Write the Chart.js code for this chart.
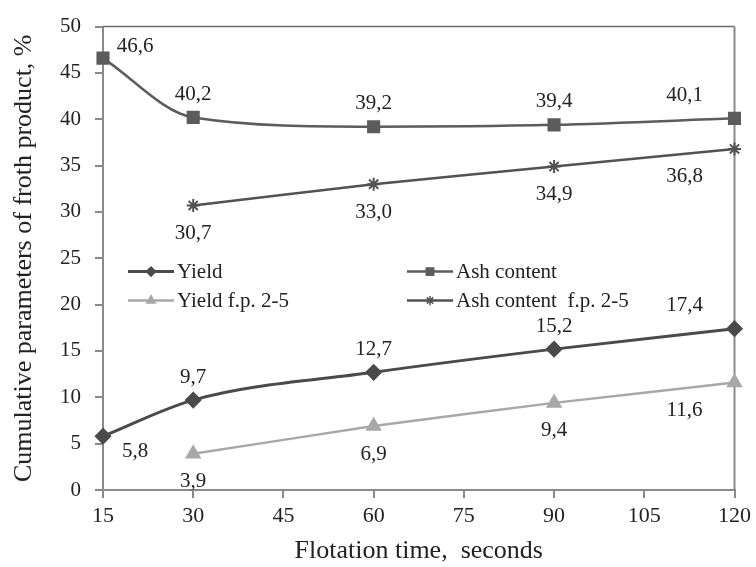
<!DOCTYPE html>
<html>
<head>
<meta charset="utf-8">
<script src="https://cdn.jsdelivr.net/npm/chart.js@4/dist/chart.umd.min.js"></script>
<style>
  html, body { margin: 0; padding: 0; background: #fff; }
  #wrap { width: 756px; height: 567px; }
</style>
</head>
<body>
<div id="wrap"><canvas id="grafico" width="756" height="567"></canvas></div>
<script>
// --- dados ---
const tempos = [15, 30, 60, 90, 120];
const yieldVals = [5.8, 9.7, 12.7, 15.2, 17.4];
const ashVals = [46.6, 40.2, 39.2, 39.4, 40.1];
const yieldFpVals = [null, 3.9, 6.9, 9.4, 11.6];
const ashFpVals = [null, 30.7, 33.0, 34.9, 36.8];
const xTicks = [15, 30, 45, 60, 75, 90, 105, 120];

const FONTE = "'Liberation Serif', 'Times New Roman', serif";
const COR_EIXO = '#8a8a8a';

function pontos(vals) {
  return tempos.map((t, i) => ({ x: t, y: vals[i] }));
}

function fmt(v) {
  return v.toFixed(1).replace('.', ',');
}

// rótulos de valor ao lado dos pontos
const rotulosPlugin = {
  id: 'rotulos',
  afterDatasetsDraw(chart) {
    const ctx = chart.ctx;
    ctx.save();
    ctx.font = '21px ' + FONTE;
    ctx.fillStyle = '#222';
    ctx.textAlign = 'center';
    ctx.textBaseline = 'middle';
    chart.data.datasets.forEach((ds, di) => {
      const meta = chart.getDatasetMeta(di);
      meta.data.forEach((pt, i) => {
        const v = ds.data[i].y;
        if (v === null || v === undefined) return;
        let dx = 0;
        let dy = ds.lado === 'acima' ? -23 : 28;
        if (i === 0) { dx = 32; dy = ds.dyInicio; }
        if (i === ds.data.length - 1) dx = -50;
        ctx.fillText(fmt(v), pt.x + dx, pt.y + dy);
      });
    });
    ctx.restore();
  }
};

// legenda desenhada dentro da área do gráfico
const legendaPlugin = {
  id: 'legendaInterna',
  afterDatasetsDraw(chart) {
    const ctx = chart.ctx;
    const area = chart.chartArea;
    const cols = [area.left + 25, area.left + 304];
    const linhas = [area.top + 245, area.top + 274];
    ctx.save();
    ctx.font = '21px ' + FONTE;
    ctx.textBaseline = 'middle';
    ctx.textAlign = 'left';
    chart.data.datasets.forEach((ds, k) => {
      const x = cols[k % 2];
      const y = linhas[Math.floor(k / 2)];
      ctx.strokeStyle = ds.borderColor;
      ctx.lineWidth = ds.borderWidth;
      ctx.beginPath();
      ctx.moveTo(x, y);
      ctx.lineTo(x + 46, y);
      ctx.stroke();
      ctx.fillStyle = ds.pointBackgroundColor;
      ctx.strokeStyle = ds.borderColor;
      ctx.lineWidth = 1.5;
      Chart.helpers.drawPoint(ctx, { pointStyle: ds.pointStyle, radius: ds.pointRadius * 0.7, borderWidth: 1.5 }, x + 23, y);
      ctx.fillStyle = '#222';
      ctx.fillText(ds.label, x + 49, y + 1);
    });
    ctx.restore();
  }
};

// bordas superior e direita da área
const molduraPlugin = {
  id: 'moldura',
  beforeDatasetsDraw(chart) {
    const { ctx, chartArea: a } = chart;
    ctx.save();
    ctx.strokeStyle = '#6e6e6e';
    ctx.lineWidth = 1.5;
    ctx.beginPath();
    ctx.moveTo(a.left, a.top);
    ctx.lineTo(a.right, a.top);
    ctx.stroke();
    ctx.strokeStyle = COR_EIXO;
    ctx.lineWidth = 2;
    ctx.beginPath();
    ctx.moveTo(a.right, a.top);
    ctx.lineTo(a.right, a.bottom);
    ctx.stroke();
    ctx.restore();
  }
};

const ctx = document.getElementById('grafico').getContext('2d');
new Chart(ctx, {
  type: 'line',
  data: {
    datasets: [
      {
        label: 'Yield',
        data: pontos(yieldVals),
        borderColor: '#4a4a4a',
        pointBackgroundColor: '#4a4a4a',
        borderWidth: 3,
        pointStyle: 'rectRot',
        pointRadius: 6.5,
        cubicInterpolationMode: 'monotone',
        lado: 'acima',
        dyInicio: 15
      },
      {
        label: 'Ash content',
        data: pontos(ashVals),
        borderColor: '#5c5c5c',
        pointBackgroundColor: '#5c5c5c',
        borderWidth: 2.5,
        pointStyle: 'rect',
        pointRadius: 7.5,
        cubicInterpolationMode: 'monotone',
        lado: 'acima',
        dyInicio: -12
      },
      {
        label: 'Yield f.p. 2-5',
        data: pontos(yieldFpVals),
        borderColor: '#a8a8a8',
        pointBackgroundColor: '#a8a8a8',
        borderWidth: 2.5,
        pointStyle: 'triangle',
        pointRadius: 7,
        tension: 0.1,
        lado: 'abaixo',
        dyInicio: 28
      },
      {
        label: 'Ash content  f.p. 2-5',
        data: pontos(ashFpVals),
        borderColor: '#525252',
        pointBackgroundColor: '#525252',
        borderWidth: 2.5,
        pointStyle: 'star',
        pointRadius: 6.5,
        pointBorderWidth: 2,
        tension: 0.1,
        lado: 'abaixo',
        dyInicio: 28
      }
    ]
  },
  options: {
    responsive: false,
    animation: false,
    devicePixelRatio: 1,
    layout: { padding: { top: 18, right: 21, left: 0, bottom: 0 } },
    elements: { line: { fill: false } },
    datasets: { line: { clip: false, spanGaps: false } },
    plugins: {
      legend: { display: false },
      tooltip: { enabled: false }
    },
    scales: {
      x: {
        type: 'linear',
        min: xTicks[0],
        max: xTicks[xTicks.length - 1],
        afterBuildTicks: (s) => { s.ticks = xTicks.map(v => ({ value: v })); },
        afterFit: (s) => { s.height = 77; },
        grid: { display: true, drawOnChartArea: false, drawTicks: true, tickLength: 8, color: COR_EIXO, lineWidth: 2 },
        border: { display: true, color: COR_EIXO, width: 2 },
        ticks: { color: '#222', font: { family: FONTE, size: 22 }, padding: 5, maxRotation: 0 },
        title: {
          display: true,
          text: 'Flotation time,  seconds',
          color: '#222',
          font: { family: FONTE, size: 26 },
          padding: { top: 0, bottom: 0 }
        }
      },
      y: {
        min: 0,
        max: 50,
        afterFit: (s) => { s.width = 103; },
        grid: { display: true, drawOnChartArea: false, drawTicks: true, tickLength: 8, color: COR_EIXO, lineWidth: 2 },
        border: { display: true, color: COR_EIXO, width: 2 },
        ticks: { stepSize: 5, color: '#222', font: { family: FONTE, size: 21 }, padding: 14 },
        title: {
          display: true,
          text: 'Cumulative parameters of froth product, %',
          color: '#222',
          font: { family: FONTE, size: 26 },
          padding: { top: 9, bottom: 0 }
        }
      }
    }
  },
  plugins: [molduraPlugin, rotulosPlugin, legendaPlugin]
});
</script>
</body>
</html>
